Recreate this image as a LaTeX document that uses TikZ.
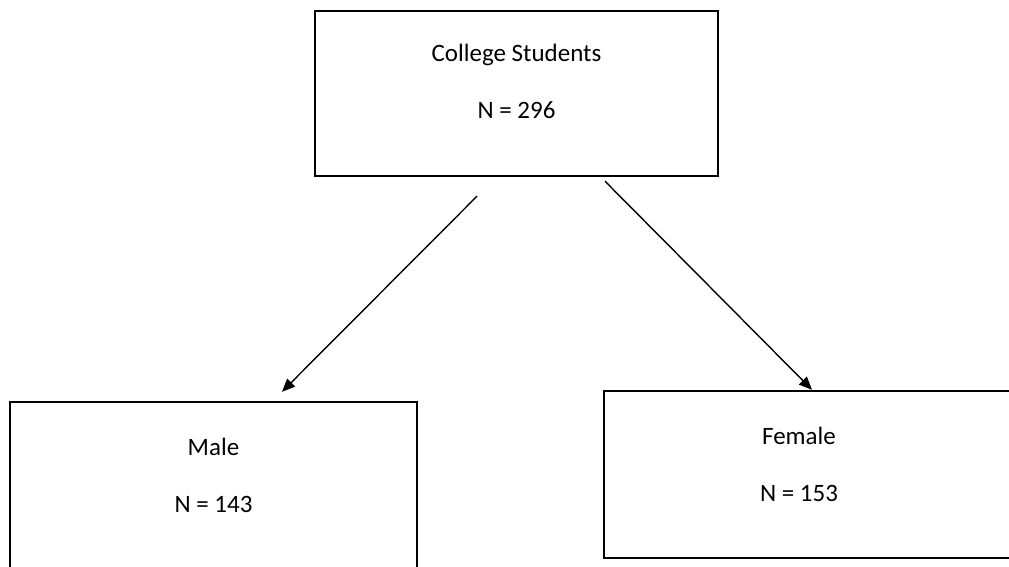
\documentclass[tikz,border=0pt]{standalone}
\usepackage{fontspec}
\setmainfont{Carlito}
\usetikzlibrary{arrows.meta}

\begin{document}
\begin{tikzpicture}[x=1pt, y=-1pt,
    box/.style={draw, line width=2.4pt, inner sep=0pt},
    txt/.style={align=center, font=\fontsize{25}{30}\selectfont},
    arr/.style={line width=1.4pt, -{Triangle[length=13pt,width=11pt]}}]
    \useasboundingbox (0,0) rectangle (1009,567);
    \clip (0,0) rectangle (1009,567);

    % top box
    \node[box, minimum width=403pt, minimum height=165pt] (students) at (516.5,93.5) {};
    \node[txt] (students-txt) at ([yshift=-72pt]students.north) {College Students\\[27pt]N = 296};

    % lower boxes, cut by the page edge
    \node[box, minimum width=407pt, minimum height=180pt] (male) at (213.5,492) {};
    \node[txt] (male-txt) at ([yshift=-75pt]male.north) {Male\\[27pt]N = 143};
    \node[box, minimum width=410pt, minimum height=167pt] (female) at (809,474.5) {};
    \node[txt] (female-txt) at ([xshift=-10pt,yshift=-75pt]female.north) {Female\\[27pt]N = 153};

    \draw[arr] ([xshift=-39.5pt,yshift=-19pt]students.south) -- ([xshift=68.5pt,yshift=9pt]male.north);
    \draw[arr] ([xshift=88.5pt,yshift=-4pt]students.south) -- ([xshift=3pt]female.north);
\end{tikzpicture}
\end{document}
